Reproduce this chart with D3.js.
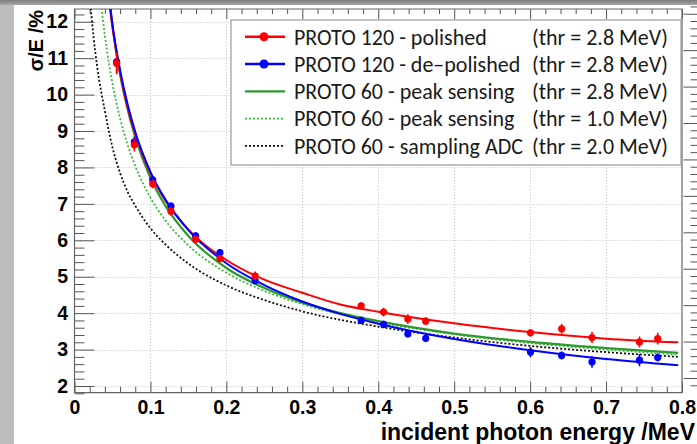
<!DOCTYPE html>
<html>
<head>
<meta charset="utf-8">
<script src="https://cdn.jsdelivr.net/npm/d3@7"></script>
<style>
  html, body { margin: 0; padding: 0; background: #fff; }
  svg { display: block; }
</style>
</head>
<body>
<svg id="chart" width="697" height="444"></svg>
<script>
// ---- measured points: incident energy (MeV) and sigma/E (%) ----
const energies      = [0.0555, 0.0788, 0.1030, 0.1270, 0.1595, 0.1915, 0.2380, 0.3775, 0.4070, 0.4390, 0.4625, 0.6005, 0.6415, 0.6815, 0.7440, 0.7680];
const polished      = [10.86, 8.62, 7.55, 6.80, 6.03, 5.50, 5.02, 4.20, 4.03, 3.84, 3.78, 3.46, 3.57, 3.33, 3.21, 3.30];
const polishedErr   = [0.30, 0.18, 0.12, 0.12, 0.10, 0.10, 0.12, 0.10, 0.12, 0.13, 0.11, 0.10, 0.13, 0.15, 0.15, 0.16];
const depolished    = [10.90, 8.70, 7.66, 6.94, 6.12, 5.66, 4.89, 3.80, 3.69, 3.43, 3.31, 2.93, 2.84, 2.66, 2.71, 2.78];
const depolishedErr = [0.30, 0.15, 0.10, 0.10, 0.10, 0.10, 0.10, 0.10, 0.10, 0.10, 0.10, 0.14, 0.11, 0.16, 0.17, 0.11];

// ---- fitted resolution curves, sampled along energy ----
const fitE          = [0.046, 0.05, 0.06, 0.07, 0.08, 0.10, 0.12, 0.15, 0.20, 0.25, 0.30, 0.35, 0.40, 0.50, 0.60, 0.70, 0.795];
const fitPolished   = [12.49, 11.85, 10.59, 9.64, 8.91, 7.83, 7.08, 6.29, 5.46, 4.92, 4.56, 4.24, 4.04, 3.72, 3.48, 3.30, 3.20];
const fitDepolished = [12.60, 11.93, 10.68, 9.73, 8.98, 7.88, 7.11, 6.28, 5.37, 4.77, 4.32, 3.98, 3.71, 3.29, 2.98, 2.74, 2.57];
const fitPeak28     = [12.54, 11.87, 10.56, 9.59, 8.83, 7.71, 6.94, 6.12, 5.24, 4.69, 4.29, 4.00, 3.78, 3.44, 3.21, 3.04, 2.91];
const peak10E       = [0.035, 0.04, 0.05, 0.06, 0.07, 0.08, 0.10, 0.12, 0.15, 0.20, 0.25, 0.30, 0.40, 0.50, 0.60, 0.70, 0.795];
const fitPeak10     = [12.49, 11.62, 10.30, 9.35, 8.62, 8.04, 7.17, 6.54, 5.86, 5.11, 4.61, 4.25, 3.75, 3.42, 3.18, 3.00, 2.86];
const samplingE     = [0.02, 0.025, 0.03, 0.04, 0.05, 0.06, 0.07, 0.08, 0.10, 0.12, 0.15, 0.20, 0.25, 0.30, 0.40, 0.50, 0.60, 0.70, 0.795];
const fitSampling   = [12.70, 11.60, 10.75, 9.55, 8.55, 7.85, 7.33, 6.95, 6.33, 5.88, 5.36, 4.76, 4.36, 4.05, 3.63, 3.33, 3.10, 2.93, 2.80];

// ---- axis ticks and labels ----
const xMajor = [0, 0.1, 0.2, 0.3, 0.4, 0.5, 0.6, 0.7, 0.8];
const xTickLabels = ["0", "0.1", "0.2", "0.3", "0.4", "0.5", "0.6", "0.7", "0.8"];
const yMajor = [2, 3, 4, 5, 6, 7, 8, 9, 10, 11, 12];
const yTickLabels = ["2", "3", "4", "5", "6", "7", "8", "9", "10", "11", "12"];

// ---- legend ----
const legendNames = ["PROTO 120 - polished", "PROTO 120 - de\u2013polished", "PROTO 60 - peak sensing", "PROTO 60 - peak sensing", "PROTO 60 - sampling ADC"];
const legendThr   = ["(thr = 2.8 MeV)", "(thr = 2.8 MeV)", "(thr = 2.8 MeV)", "(thr = 1.0 MeV)", "(thr = 2.0 MeV)"];

const W = 697, H = 444;
const F = { left: 74.5, right: 682, top: 9, bottom: 392.7 };

const x = d3.scaleLinear().domain([0, 0.8]).range([F.left, F.right]);
const y = d3.scaleLinear().domain([1.816, 12.35]).range([F.bottom, F.top]);

const svg = d3.select("#chart");
const defs = svg.append("defs");

// page backdrop: grey bevel strips around a white panel
const gl = defs.append("linearGradient").attr("id", "bgLeft").attr("x1", 0).attr("x2", 1).attr("y1", 0).attr("y2", 0);
gl.append("stop").attr("offset", 0).attr("stop-color", "#bdbdbd");
gl.append("stop").attr("offset", 0.55).attr("stop-color", "#a9a9a9");
gl.append("stop").attr("offset", 1).attr("stop-color", "#8e8e8e");
const gt = defs.append("linearGradient").attr("id", "bgTop").attr("x1", 0).attr("x2", 0).attr("y1", 0).attr("y2", 1);
gt.append("stop").attr("offset", 0).attr("stop-color", "#7d7d7d");
gt.append("stop").attr("offset", 1).attr("stop-color", "#a6a6a6");

svg.append("rect").attr("x", 0).attr("y", 0).attr("width", W).attr("height", H).attr("fill", "url(#bgLeft)");
svg.append("rect").attr("x", 0).attr("y", 0).attr("width", W).attr("height", 5).attr("fill", "url(#bgTop)");
svg.append("rect").attr("x", 14).attr("y", 5).attr("width", W - 14).attr("height", H - 5).attr("fill", "#ffffff");

defs.append("clipPath").attr("id", "plotClip")
  .append("rect").attr("x", F.left).attr("y", F.top).attr("width", F.right - F.left).attr("height", F.bottom - F.top);

// grid
const grid = svg.append("g").attr("stroke", "#c4c4c4").attr("stroke-width", 1).attr("stroke-dasharray", "1,2");
grid.selectAll("line.gx").data(xMajor.filter(d => d > 0 && d < 0.8)).join("line")
  .attr("x1", d => Math.round(x(d)) + 0.5).attr("x2", d => Math.round(x(d)) + 0.5)
  .attr("y1", F.top).attr("y2", F.bottom);
grid.selectAll("line.gy").data(yMajor).join("line")
  .attr("x1", F.left).attr("x2", F.right)
  .attr("y1", d => Math.round(y(d)) + 0.5).attr("y2", d => Math.round(y(d)) + 0.5);

// minor tick positions
const xMinor = d3.range(0, 41).map(i => i * 0.02).filter(v => Math.abs(v * 10 - Math.round(v * 10)) > 1e-6);
const yMinor = d3.range(9, 62).map(i => i * 0.2).filter(v => Math.abs(v - Math.round(v)) > 1e-6 && v <= 12.35 && v >= 1.8);

const tickColor = "#555";
function styleAxis(g) {
  g.select(".domain").remove();
  g.selectAll(".tick line").attr("stroke", tickColor).attr("stroke-width", 1);
}

// left axis
svg.append("g").attr("transform", `translate(${F.left},0)`)
  .call(d3.axisLeft(y).tickValues(yMajor).tickSize(-20).tickPadding(6.5).tickFormat((d, i) => yTickLabels[i]))
  .call(styleAxis)
  .call(g => g.selectAll("text").attr("fill", "#000").attr("font-family", "Liberation Sans, Arial, sans-serif")
    .attr("font-weight", "bold").attr("font-size", 19.5));
svg.append("g").attr("transform", `translate(${F.left},0)`)
  .call(d3.axisLeft(y).tickValues(yMinor).tickSize(-10).tickFormat(""))
  .call(styleAxis);

// bottom axis
svg.append("g").attr("transform", `translate(0,${F.bottom})`)
  .call(d3.axisBottom(x).tickValues(xMajor).tickSize(-11).tickPadding(7.0).tickFormat((d, i) => xTickLabels[i]))
  .call(styleAxis)
  .call(g => g.selectAll("text").attr("fill", "#000").attr("font-family", "Liberation Sans, Arial, sans-serif")
    .attr("font-weight", "bold").attr("font-size", 19.5));
svg.append("g").attr("transform", `translate(0,${F.bottom})`)
  .call(d3.axisBottom(x).tickValues(xMinor).tickSize(-6).tickFormat(""))
  .call(styleAxis);

// top axis (ticks only)
svg.append("g").attr("transform", `translate(0,${F.top})`)
  .call(d3.axisTop(x).tickValues(xMajor).tickSize(-10).tickFormat(""))
  .call(styleAxis);
svg.append("g").attr("transform", `translate(0,${F.top})`)
  .call(d3.axisTop(x).tickValues(xMinor).tickSize(-5).tickFormat(""))
  .call(styleAxis);

// neighbouring pad's axis ticks at the right edge
svg.append("g").attr("transform", `translate(698.5,-8)`)
  .call(d3.axisLeft(y).tickValues(yMajor).tickSize(15).tickFormat(""))
  .call(styleAxis);
svg.append("g").attr("transform", `translate(698.5,-8)`)
  .call(d3.axisLeft(y).tickValues(yMinor).tickSize(8).tickFormat(""))
  .call(styleAxis);

// frame
svg.append("path")
  .attr("d", `M${F.left},${F.top}H${F.right}V${F.bottom}H${F.left}Z`)
  .attr("fill", "none").attr("stroke", "#666").attr("stroke-width", 1.2);

// curves
const plot = svg.append("g").attr("clip-path", "url(#plotClip)");
const line = d3.line().x(d => x(d[0])).y(d => y(d[1])).curve(d3.curveMonotoneX);
const curves = [
  { e: samplingE, v: fitSampling,   color: "#111111", dash: "2,2",  w: 1.8 },
  { e: peak10E,   v: fitPeak10,     color: "#3cb83c", dash: "2,2",  w: 1.8 },
  { e: fitE,      v: fitPeak28,     color: "#2e9a2e", dash: null,   w: 2.2 },
  { e: fitE,      v: fitPolished,   color: "#ff0000", dash: null,   w: 2.0 },
  { e: fitE,      v: fitDepolished, color: "#0000ff", dash: null,   w: 2.0 }
];
curves.forEach(c => {
  plot.append("path")
    .attr("d", line(c.e.map((e, i) => [e, c.v[i]])))
    .attr("fill", "none").attr("stroke", c.color).attr("stroke-width", c.w)
    .attr("stroke-dasharray", c.dash);
});

// data points with error bars
function drawPoints(vals, errs, color) {
  const g = plot.append("g");
  g.selectAll("line").data(energies).join("line")
    .attr("x1", d => x(d)).attr("x2", d => x(d))
    .attr("y1", (d, i) => y(vals[i] - errs[i])).attr("y2", (d, i) => y(vals[i] + errs[i]))
    .attr("stroke", color).attr("stroke-width", 1.6);
  g.selectAll("circle").data(energies).join("circle")
    .attr("cx", d => x(d)).attr("cy", (d, i) => y(vals[i])).attr("r", 3.6)
    .attr("fill", color);
}
drawPoints(depolished, depolishedErr, "#0000ff");
drawPoints(polished, polishedErr, "#ff0000");

// legend
const leg = svg.append("g").attr("transform", "translate(231,20)");
leg.append("rect").attr("x", 0).attr("y", 0).attr("width", 450).attr("height", 145)
  .attr("fill", "#fff").attr("stroke", "#9a9a9a").attr("stroke-width", 1.2);
const legStyle = [
  { color: "#ff0000", dash: null, w: 2.4, dot: true },
  { color: "#0000ff", dash: null, w: 2.4, dot: true },
  { color: "#2e9a2e", dash: null, w: 2.2, dot: false },
  { color: "#3cb83c", dash: "2,2", w: 1.8, dot: false },
  { color: "#111111", dash: "2,2", w: 1.8, dot: false }
];
legendNames.forEach((name, i) => {
  const base = 24.5 + i * 27.3;
  const ly = base - 7.8;
  const s = legStyle[i];
  leg.append("line").attr("x1", 14).attr("x2", 54).attr("y1", ly).attr("y2", ly)
    .attr("stroke", s.color).attr("stroke-width", s.w).attr("stroke-dasharray", s.dash);
  if (s.dot) leg.append("circle").attr("cx", 33).attr("cy", ly).attr("r", 4.5).attr("fill", s.color);
  leg.append("text").attr("x", 63).attr("y", base).text(name)
    .attr("font-family", "Carlito, Calibri, Lato, sans-serif").attr("font-size", 22).attr("fill", "#1a1a1a");
  leg.append("text").attr("x", 301).attr("y", base).text(legendThr[i])
    .attr("font-family", "Carlito, Calibri, Lato, sans-serif").attr("font-size", 22).attr("fill", "#1a1a1a");
});

// axis titles
svg.append("text").attr("transform", "translate(43,10) rotate(-90)")
  .attr("text-anchor", "end").text("\u03c3/E /%")
  .attr("font-family", "Liberation Sans, Arial, sans-serif").attr("font-weight", "bold").attr("font-size", 20);
svg.append("text").attr("x", 695).attr("y", 440).attr("text-anchor", "end").text("incident photon energy /MeV")
  .attr("font-family", "Liberation Sans, Arial, sans-serif").attr("font-weight", "bold").attr("font-size", 23);
</script>
</body>
</html>
